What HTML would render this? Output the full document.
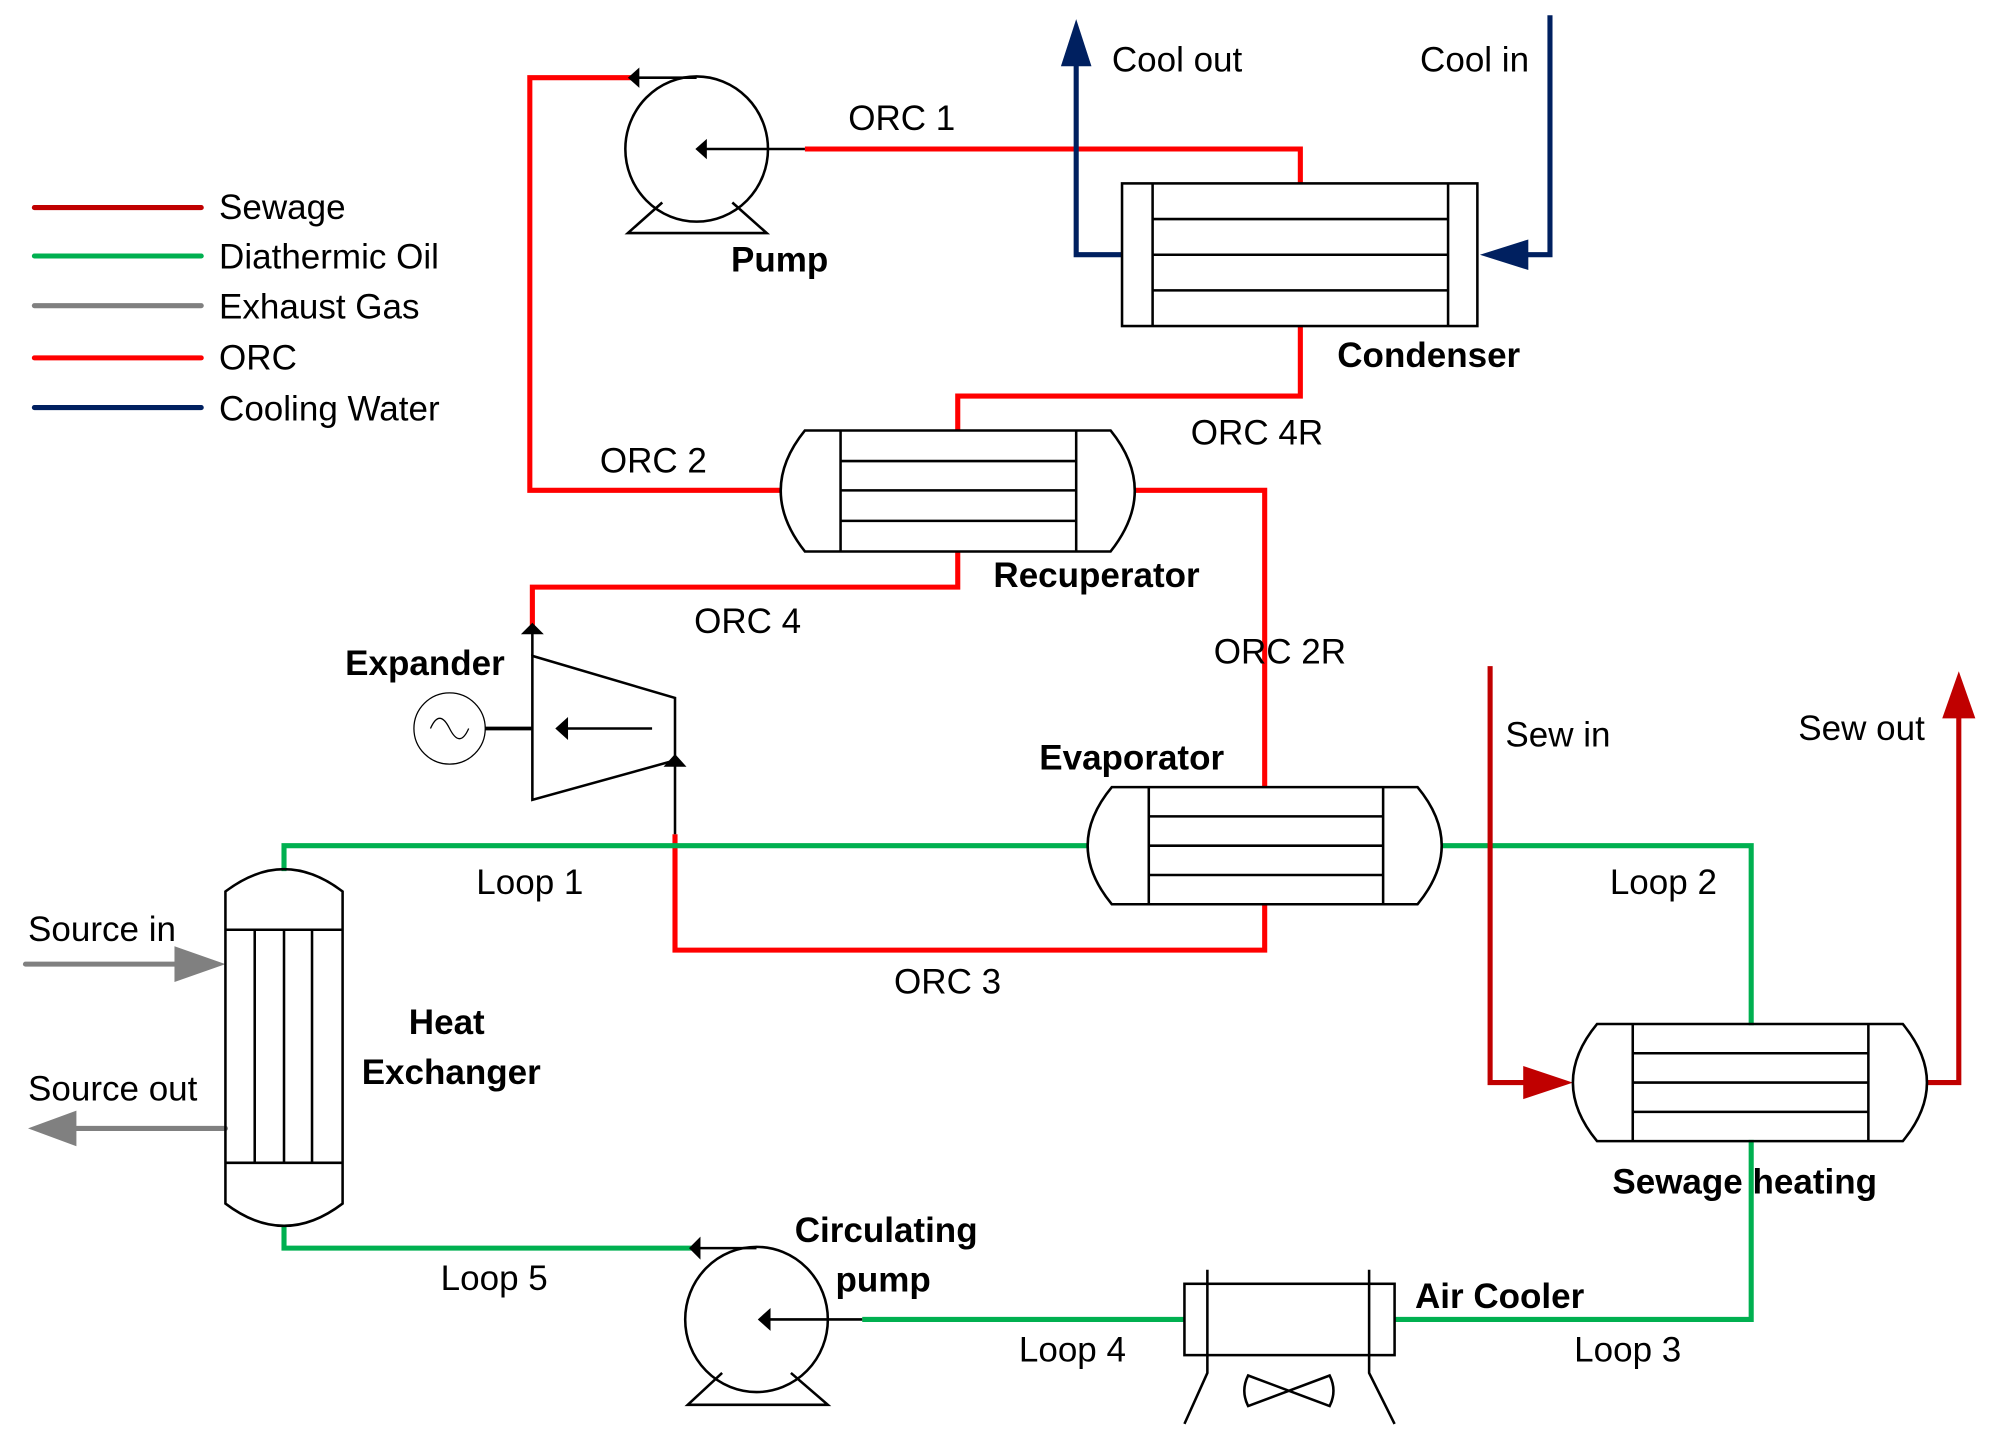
<!DOCTYPE html>
<html><head><meta charset="utf-8"><style>
html,body{margin:0;padding:0;background:#fff}
svg{display:block}
text{font-family:"Liberation Sans",sans-serif;font-size:27.5px;fill:#000}
.b{font-weight:bold}
</style></head><body>
<svg width="1997" height="1443" viewBox="0 0 1568 1133" preserveAspectRatio="none" xmlns="http://www.w3.org/2000/svg">
<g fill="none" stroke-linecap="butt">
<line x1="27" y1="163" x2="158" y2="163" stroke="#c00000" stroke-width="4" stroke-linecap="round"/>
<line x1="27" y1="201" x2="158" y2="201" stroke="#00b050" stroke-width="4" stroke-linecap="round"/>
<line x1="27" y1="240" x2="158" y2="240" stroke="#808080" stroke-width="4" stroke-linecap="round"/>
<line x1="27" y1="281" x2="158" y2="281" stroke="#ff0000" stroke-width="4" stroke-linecap="round"/>
<line x1="27" y1="320" x2="158" y2="320" stroke="#002060" stroke-width="4" stroke-linecap="round"/>

<g stroke="#ff0000" stroke-width="4">
<polyline points="500,61 416,61 416,385 613,385"/>
<polyline points="632,117 1021,117 1021,144"/>
<polyline points="1021,256 1021,311 752,311 752,338"/>
<polyline points="891,385 993,385 993,618"/>
<polyline points="752,433 752,461 418,461 418,494"/>
<polyline points="993,710 993,746 530,746 530,655"/>
</g>
<g stroke="#00b050" stroke-width="4">
<polyline points="854,664 223,664 223,684"/>
<polyline points="1132,664 1375,664 1375,805"/>
<polyline points="223,962 223,980 545,980"/>
<polyline points="677,1036 930,1036"/>
<polyline points="1095,1036 1375,1036 1375,895"/>
</g>
<g stroke="#002060" stroke-width="4">
<polyline points="1217,12 1217,200 1190,200"/>
<polyline points="881,200 845,200 845,45"/>
</g>
<polygon points="1162,200 1200,188 1200,212" fill="#002060"/>
<polygon points="845,15 833,52 857,52" fill="#002060"/>
<g stroke="#c00000" stroke-width="4">
<polyline points="1170,523 1170,850 1205,850"/>
<polyline points="1513,850 1538,850 1538,560"/>
</g>
<polygon points="1235,850 1196,837 1196,863" fill="#c00000"/>
<polygon points="1538,527 1525,564 1551,564" fill="#c00000"/>
<g stroke="#808080" stroke-width="4" stroke-linecap="round">
<line x1="20" y1="757" x2="142" y2="757"/>
<line x1="177" y1="886" x2="58" y2="886"/>
</g>
<polygon points="177,757 137,743 137,771" fill="#808080"/>
<polygon points="22,886 60,872 60,900" fill="#808080"/>

<g stroke="#000" stroke-width="2">
<ellipse cx="547" cy="117" rx="56" ry="57"/>
<polyline points="520,159 493,183 602,183 575,159"/>
<line x1="547" y1="61" x2="500" y2="61"/>
<line x1="632" y1="117" x2="552" y2="117"/>
<rect x="881" y="144" width="279" height="112"/>
<line x1="905" y1="144" x2="905" y2="256"/><line x1="1137" y1="144" x2="1137" y2="256"/>
<line x1="905" y1="172" x2="1137" y2="172"/><line x1="905" y1="200" x2="1137" y2="200"/><line x1="905" y1="228" x2="1137" y2="228"/>
<path d="M632,338 L872,338 Q910,385 872,433 L632,433 Q594,385 632,338 Z"/>
<line x1="660" y1="338" x2="660" y2="433"/><line x1="845" y1="338" x2="845" y2="433"/>
<line x1="660" y1="362" x2="845" y2="362"/><line x1="660" y1="385" x2="845" y2="385"/><line x1="660" y1="409" x2="845" y2="409"/>
<path d="M873,618 L1113,618 Q1151,664 1113,710 L873,710 Q835,664 873,618 Z"/>
<line x1="902" y1="618" x2="902" y2="710"/><line x1="1086" y1="618" x2="1086" y2="710"/>
<line x1="902" y1="641" x2="1086" y2="641"/><line x1="902" y1="664" x2="1086" y2="664"/><line x1="902" y1="687" x2="1086" y2="687"/>
<path d="M1254,804 L1494,804 Q1532,850 1494,896 L1254,896 Q1216,850 1254,804 Z"/>
<line x1="1282" y1="804" x2="1282" y2="896"/><line x1="1467" y1="804" x2="1467" y2="896"/>
<line x1="1282" y1="827" x2="1467" y2="827"/><line x1="1282" y1="850" x2="1467" y2="850"/><line x1="1282" y1="873" x2="1467" y2="873"/>
<path d="M177,700 Q223,665 269,700 L269,945 Q223,980 177,945 Z"/>
<line x1="177" y1="730" x2="269" y2="730"/><line x1="177" y1="913" x2="269" y2="913"/>
<line x1="200" y1="730" x2="200" y2="913"/><line x1="223" y1="730" x2="223" y2="913"/><line x1="245" y1="730" x2="245" y2="913"/>
<polygon points="418,515 530,548 530,597 418,628"/>
<line x1="418" y1="515" x2="418" y2="497"/>
<line x1="530" y1="655" x2="530" y2="600"/>
<line x1="512" y1="572" x2="442" y2="572"/>
<line x1="381" y1="572" x2="418" y2="572" stroke-width="3"/>
<ellipse cx="594" cy="1036" rx="56" ry="57"/>
<polyline points="567,1078 540,1103 650,1103 621,1078"/>
<line x1="594" y1="980" x2="548" y2="980"/>
<line x1="677" y1="1036" x2="600" y2="1036"/>
<rect x="930" y="1008" width="165" height="56"/>
<polyline points="948,997 948,1078 930,1118"/>
<polyline points="1075,997 1075,1078 1095,1118"/>
<path d="M980,1080 L1044,1104 Q1050,1092 1044,1080 L980,1104 Q974,1092 980,1080 Z"/>
</g>
<circle cx="353" cy="572" r="28" stroke="#000" stroke-width="1"/>
<path d="M338,572 Q345,556 353,572 Q361,588 368,572" stroke="#000" stroke-width="1"/>
</g>
<g fill="#000">
<polygon points="493,61 502,53 502,69"/>
<polygon points="546,117 555,109 555,125"/>
<polygon points="418,489 409,498 427,498"/>
<polygon points="530,592 521,602 539,602"/>
<polygon points="436,572 446,563 446,581"/>
<polygon points="541,980 550,971 550,989"/>
<polygon points="595,1036 605,1027 605,1045"/>
</g>

<g>
<text x="172" y="172">Sewage</text>
<text x="172" y="211">Diathermic Oil</text>
<text x="172" y="250">Exhaust Gas</text>
<text x="172" y="290">ORC</text>
<text x="172" y="330">Cooling Water</text>
<text x="873" y="56">Cool out</text>
<text x="1115" y="56">Cool in</text>
<text x="666" y="102">ORC 1</text>
<text class="b" x="574" y="213">Pump</text>
<text class="b" x="1050" y="288">Condenser</text>
<text x="935" y="349">ORC 4R</text>
<text x="471" y="371">ORC 2</text>
<text class="b" x="780" y="461">Recuperator</text>
<text x="545" y="497">ORC 4</text>
<text class="b" x="271" y="530">Expander</text>
<text x="953" y="521">ORC 2R</text>
<text x="1182" y="586">Sew in</text>
<text x="1412" y="581">Sew out</text>
<text class="b" x="816" y="604">Evaporator</text>
<text x="374" y="702">Loop 1</text>
<text x="1264" y="702">Loop 2</text>
<text x="22" y="739">Source in</text>
<text x="702" y="780">ORC 3</text>
<text class="b" x="321" y="812">Heat</text>
<text class="b" x="284" y="851">Exchanger</text>
<text x="22" y="864">Source out</text>
<text class="b" x="1266" y="937">Sewage heating</text>
<text class="b" x="624" y="975">Circulating</text>
<text class="b" x="656" y="1014">pump</text>
<text x="346" y="1013">Loop 5</text>
<text class="b" x="1111" y="1027">Air Cooler</text>
<text x="800" y="1069">Loop 4</text>
<text x="1236" y="1069">Loop 3</text>
</g>
</svg>
</body></html>
